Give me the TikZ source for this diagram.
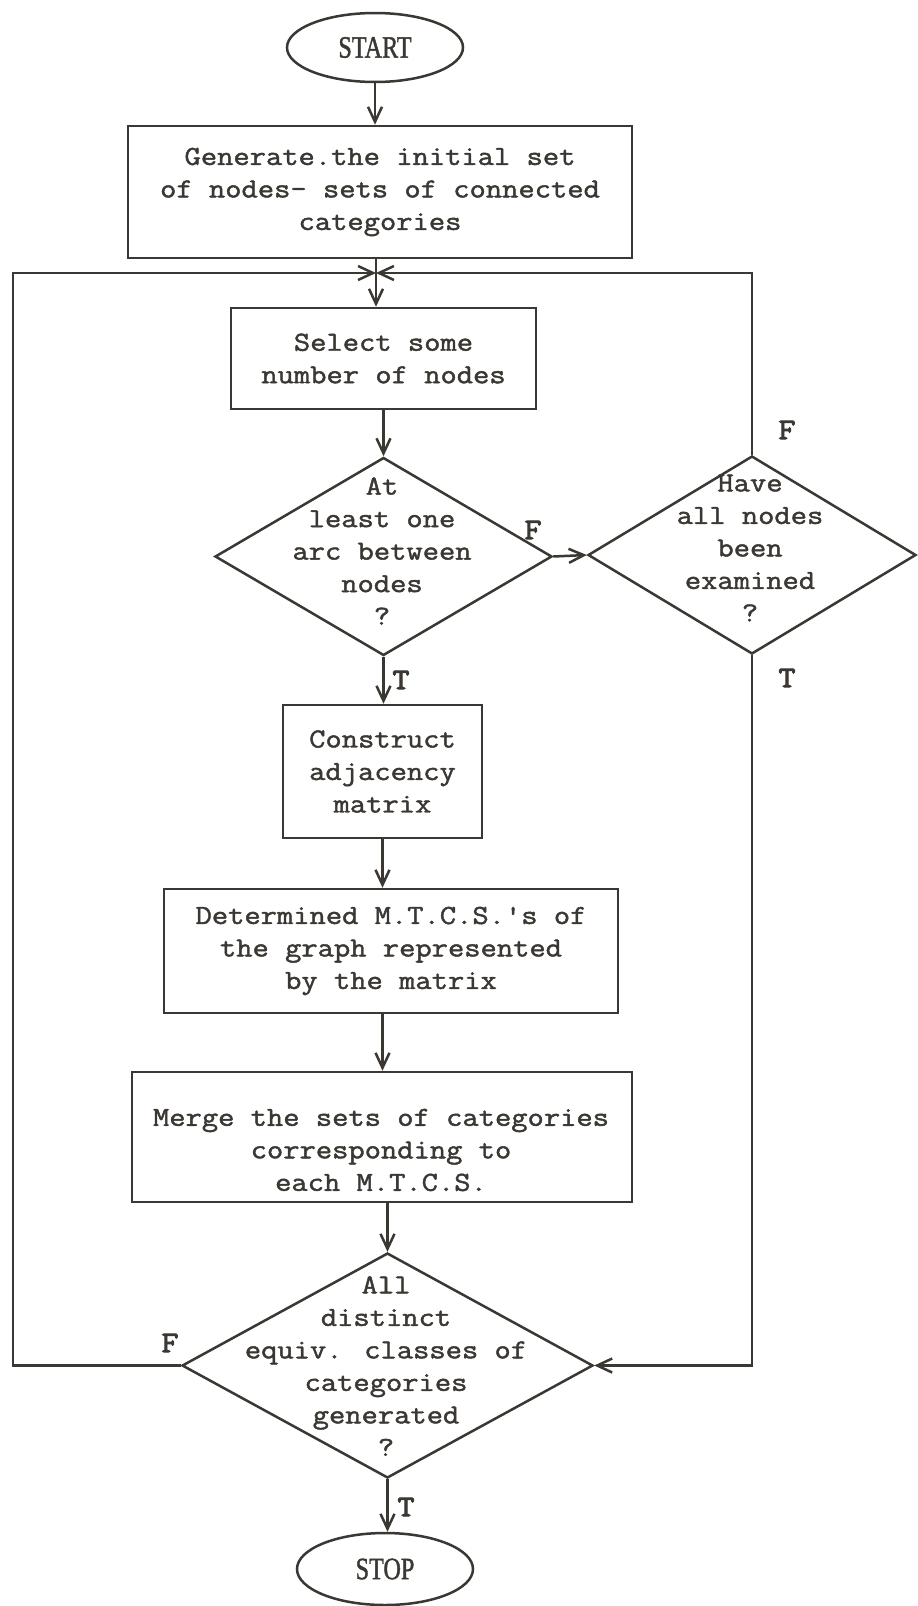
\documentclass[tikz,border=0pt]{standalone}
\usepackage{fontspec}
\usetikzlibrary{shapes.geometric,arrows.meta}
% typewriter face for the flowchart text
\newfontfamily\tw[FakeBold=1.6,FakeStretch=1.15,Ligatures=TeXOff]{Latin Modern Mono}
\newfontfamily\twlab[FakeBold=3,FakeStretch=1.1,Ligatures=TeXOff]{Latin Modern Mono}
\newfontfamily\rmcap[FakeBold=1.5]{Liberation Serif}
\definecolor{ink}{HTML}{3B3732}
\newcommand\termtext[1]{\scalebox{0.78}[1]{\rmcap\fontsize{31}{31}\selectfont #1}}

\begin{document}
\begin{tikzpicture}[x=1pt,y=-1pt,color=ink,line width=2.5pt,
  box/.style={draw,rectangle,inner sep=0pt,align=center,
    font=\tw\fontsize{27.5}{32.5}\selectfont},
  txt/.style={inner sep=0pt,align=center,
    font=\tw\fontsize{27.5}{32.5}\selectfont},
  terminal/.style={draw,ellipse,inner sep=0pt},
  decision/.style={draw,diamond,inner sep=0pt},
  arr/.style={-{Straight Barb[length=15pt,width=14pt]}},
  lab/.style={inner sep=0pt,font=\twlab\fontsize{30}{30}\selectfont}]

\path[use as bounding box,fill=white] (0,0) rectangle (918,1606);

% process steps
\node[terminal,minimum width=176pt,minimum height=69pt] (start) at (375,47.5) {\termtext{START}};
\node[box,minimum width=504pt,minimum height=132pt] (b1) at (380,192)
  {Generate.the initial set\\of nodes- sets of connected\\categories};
\node[box,minimum width=305pt,minimum height=101pt] (b2) at (383.5,358.5)
  {Select some\\number of nodes};

\node[decision,minimum width=337pt,minimum height=198pt] (d1) at (383.5,556.5) {};
\node[txt] (d1t) at (382,551) {At\\least one\\arc between\\nodes\\?};
\node[decision,minimum width=328pt,minimum height=198pt] (d2) at (752,555) {};
\node[txt] (d2t) at (750,548) {Have\\all nodes\\been\\examined\\?};

\node[box,minimum width=199pt,minimum height=133pt] (b3) at (382.5,771.5)
  {Construct\\adjacency\\matrix};
\node[box,minimum width=454pt,minimum height=124pt] (b4) at (391,951)
  {Determined M.T.C.S.'s of\\the graph represented\\by the matrix};
\node[box,minimum width=500pt,minimum height=130pt] (b5) at (382,1137) {};
\node[txt] (b5t) at (381,1150) {Merge the sets of categories\\corresponding to\\each M.T.C.S.};

\node[decision,minimum width=411pt,minimum height=225pt] (d3) at (387.5,1365.5) {};
\node[txt] (d3t) at (386,1366) {All\\distinct\\equiv. classes of\\categories\\generated\\?};
\node[terminal,minimum width=176pt,minimum height=72pt] (stop) at (385,1569) {\termtext{STOP}};

% loop junction
\coordinate (jn) at (376,273);
\coordinate (lc) at (13,273);

% connectors
\draw[arr] (start.south) -- (start.south |- b1.north);
\draw[arr] (b1.south -| jn) -- (jn |- b2.north);
\draw[arr] (d3.west) -| (lc) -- (jn);
\draw[arr] (d2.north) |- (jn);
\draw[arr] (b2.south -| d1.north) -- (d1.north);
\draw[arr] (d1.south) -- (d1.south |- b3.north);
\draw[arr] (d1.east) -- (d2.west);
\draw[arr] (b3.south) -- (b3.south |- b4.north);
\draw[arr] (b4.south -| b3.south) -- (b3.south |- b5.north);
\draw[arr] (b5.south -| d3.north) -- (d3.north);
\draw[arr] (d2.south) |- (d3.east);
\draw[arr] (d3.south) -- (d3.south |- stop.north);

% branch labels
\node[lab] (lf1) at (533,530) {F};
\node[lab] (lf2) at (787,430) {F};
\node[lab] (lt2) at (787,678) {T};
\node[lab] (lt1) at (401,680) {T};
\node[lab] (lf3) at (170,1343) {F};
\node[lab] (lt3) at (406,1507) {T};
\end{tikzpicture}
\end{document}
